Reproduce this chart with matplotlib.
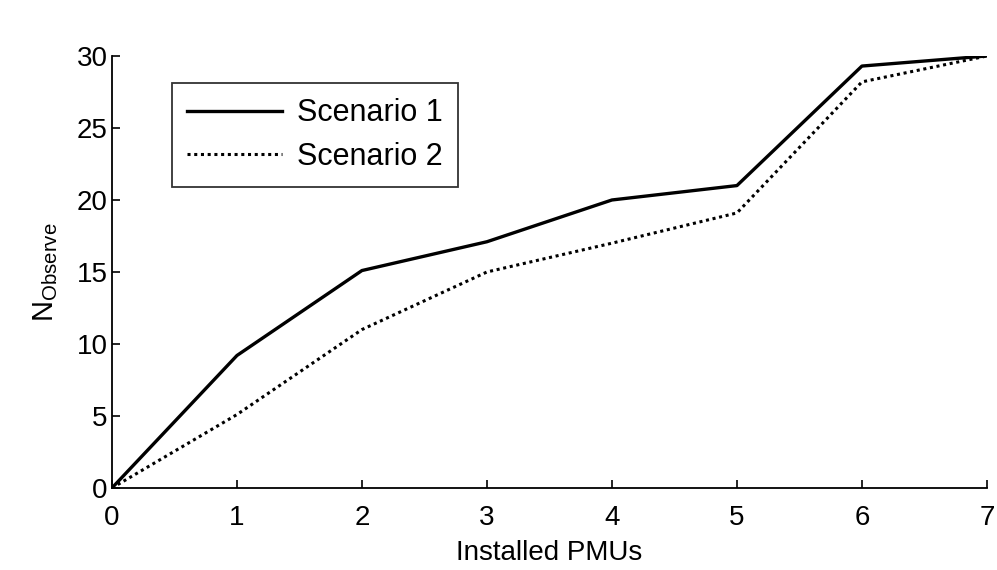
import matplotlib
matplotlib.use('Agg')
import matplotlib.pyplot as plt

pmus = [0, 1, 2, 3, 4, 5, 6, 7]
scenario1 = [0, 9.2, 15.1, 17.1, 20, 21, 29.3, 30]
scenario2 = [0, 5.1, 11, 15, 17, 19.1, 28.2, 30]

plt.rcParams['font.family'] = ['Liberation Sans', 'DejaVu Sans']
plt.rcParams['mathtext.fontset'] = 'custom'
plt.rcParams['mathtext.rm'] = 'Liberation Sans'

fig = plt.figure(figsize=(9.97, 5.70), dpi=100)
ax = fig.add_axes([0.1123, 0.1439, 0.8776, 0.7579])

ax.plot(pmus, scenario1, color='black', lw=2.4, label='Scenario 1')
ax.plot(pmus, scenario2, color='black', lw=2.2, linestyle=(0, (1, 1.2)), label='Scenario 2')

ax.set_xlim(0, 7)
ax.set_ylim(0, 30)
ax.set_xticks(range(0, 8))
ax.set_yticks(range(0, 31, 5))
ax.tick_params(direction='in', length=6, width=1.2, labelsize=20)
ax.tick_params(axis='x', pad=12)
ax.tick_params(axis='y', pad=3)
ax.spines['top'].set_visible(False)
ax.spines['right'].set_visible(False)
for s in ['left', 'bottom']:
    ax.spines[s].set_linewidth(1.3)

ax.set_xlabel('Installed PMUs', fontsize=20, labelpad=7)
ax.set_ylabel(r'$\mathregular{N_{Observe}}$', fontsize=21, labelpad=12)

leg = ax.legend(loc='upper left', bbox_to_anchor=(0.0686, 0.9375), fontsize=22,
                frameon=True, fancybox=False, edgecolor='black', handlelength=3.1,
                borderpad=0.5, labelspacing=0.45, handletextpad=0.5, borderaxespad=0)
leg.get_frame().set_linewidth(1.3)

fig.savefig('out.png', dpi=100)
